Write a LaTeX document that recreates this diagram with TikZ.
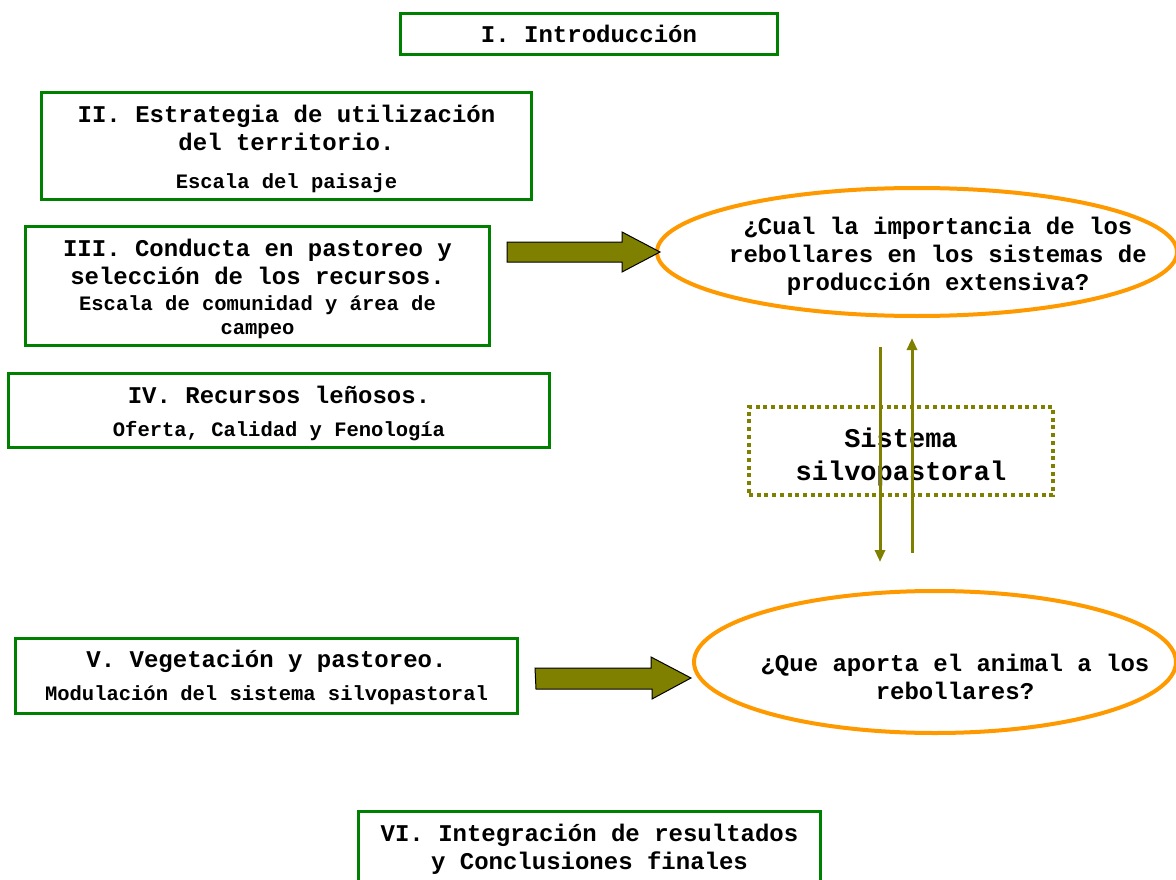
\documentclass[tikz,border=0pt]{standalone}
\usepackage{fontspec}
\setmainfont{Liberation Mono}
\usepackage{tikz}
\usetikzlibrary{shapes.geometric}
\usetikzlibrary{arrows.meta}
\usetikzlibrary{calc}
\usetikzlibrary{positioning}

\definecolor{verdecaja}{RGB}{0,128,0}
\definecolor{naranja}{RGB}{255,153,0}
\definecolor{oliva}{RGB}{128,128,0}

\newcommand{\grande}{\fontsize{24}{28}\selectfont}
\newcommand{\chica}{\fontsize{20.5}{24}\selectfont}
\newcommand{\alto}[1]{\rule{0pt}{#1pt}}

\tikzset{
  capitulo/.style={draw=verdecaja, line width=3pt, align=center, inner sep=0pt, font=\bfseries\grande},
  pregunta/.style={ellipse, draw=naranja, line width=4pt, inner sep=0pt},
  textopreg/.style={align=center, inner sep=0pt, font=\bfseries\grande},
  sistema/.style={draw=oliva, line width=4pt, dash pattern=on 4pt off 3.7pt, align=center, inner sep=0pt, font=\bfseries\fontsize{27}{33}\selectfont},
  bloque/.style={fill=oliva, draw=black, line width=1pt, line join=miter},
  flechita/.style={draw=oliva, line width=3pt, -{Triangle[length=12pt,width=10pt]}}
}

\begin{document}
\begin{tikzpicture}[x=1pt, y=-1pt]
        \useasboundingbox (0,0) rectangle (1176,880);

        % capitulos
        \node[capitulo, minimum width=377pt, minimum height=41pt] (c1) at (589,34) {I. Introducción};
        \node[capitulo, minimum width=490pt, minimum height=107pt] (c2) at (286.5,146)
            {\alto{23}II. Estrategia de utilización\\ del territorio.\\[10pt] {\chica Escala del paisaje}};
        \node[capitulo, minimum width=464pt, minimum height=119pt] (c3) at (257.5,286)
            {\alto{24}III. Conducta en pastoreo y\\ selección de los recursos.\\[-2pt] {\chica Escala de comunidad y área de}\\[-4pt] {\chica campeo}};
        \node[capitulo, minimum width=541pt, minimum height=74pt] (c4) at (279,410.5)
            {\alto{23}IV. Recursos leñosos.\\[5pt] {\chica Oferta, Calidad y Fenología}};
        \node[capitulo, minimum width=502pt, minimum height=75pt] (c5) at (266.5,676)
            {\alto{21}V. Vegetación y pastoreo.\\[5pt] {\chica Modulación del sistema silvopastoral}};
        \node[capitulo, minimum width=462pt, minimum height=72pt] (c6) at (589.5,847.5)
            {\alto{20}VI. Integración de resultados\\ y Conclusiones finales};

        % preguntas
        \node[pregunta, minimum width=520pt, minimum height=128pt] (q1) at (917,252) {};
        \node[textopreg] (q1txt) at (938,256)
            {¿Cual la importancia de los\\ rebollares en los sistemas de\\ producción extensiva?};
        \node[pregunta, minimum width=482pt, minimum height=142pt] (q2) at (935,662) {};
        \node[textopreg] (q2txt) at (955,677)
            {¿Que aporta el animal a los\\ rebollares?};

        % sistema
        \node[sistema, minimum width=304pt, minimum height=88pt] (sis) at (901,451)
            {\alto{32}Sistema\\ silvopastoral};

        % flechas gruesas
        \coordinate (b1) at (507,252);
        \draw[bloque] (b1) ++(0,-10) -- ++(115,0) -- ++(0,-10) -- ($(q1.west)+(5,0)$)
            -- ++(-38,20) -- ++(0,-10) -- ++(-115,0) -- cycle;
        \coordinate (b2) at (535,678);
        \draw[bloque] (b2) ++(0,-10) -- ++(116,0) -- ++(0,-11) -- ($(q2.west)+(-1,16)$)
            -- ++(-39,21) -- ++(0,-10) -- ++(-116,0) -- cycle;

        % flechas finas
        \coordinate (ba) at (880,347);
        \coordinate (bb) at (880,562);
        \coordinate (sa) at (912,553);
        \coordinate (sb) at (912,338);
        \draw[flechita] (ba) -- (bb);
        \draw[flechita] (sa) -- (sb);
\end{tikzpicture}
\end{document}
